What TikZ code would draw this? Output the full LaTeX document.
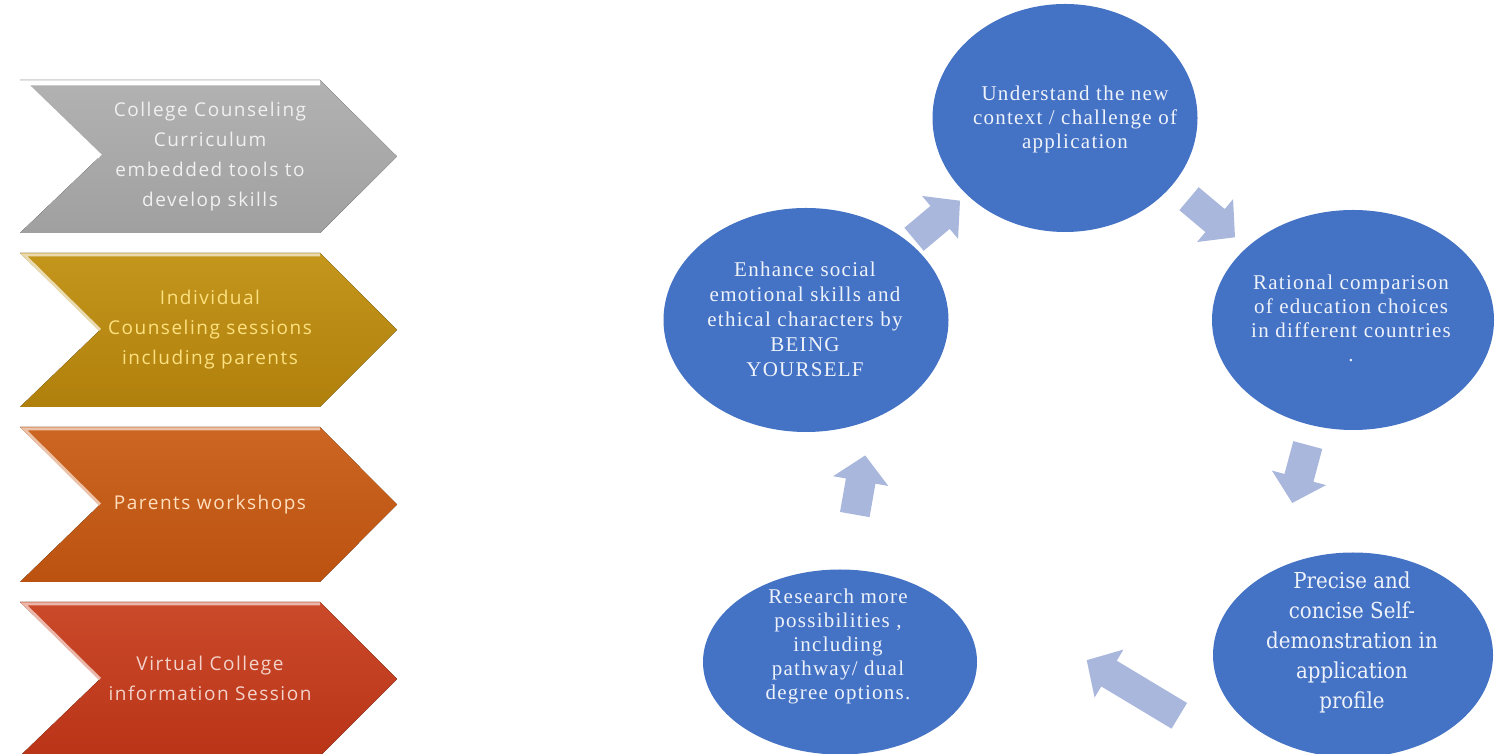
\documentclass[tikz,border=0pt]{standalone}
\usepackage{fontspec}
\setmainfont{Liberation Serif}
\newfontfamily\chevfont[LetterSpace=8]{Open Sans}
\newfontfamily\cycfont[LetterSpace=6]{Liberation Serif}
\newfontfamily\slabfont[FakeStretch=0.9]{DejaVu Serif}
\usetikzlibrary{shapes.geometric}

\definecolor{cycblue}{HTML}{4472C4}
\definecolor{cycarrow}{HTML}{A9B7DD}
\definecolor{cyctxt}{HTML}{EEF2FA}
\definecolor{graytop}{HTML}{B2B2B2}
\definecolor{graybot}{HTML}{A0A0A0}
\definecolor{goldtop}{HTML}{C4961C}
\definecolor{goldbot}{HTML}{B0800C}
\definecolor{orangetop}{HTML}{CC6622}
\definecolor{orangebot}{HTML}{BC5210}
\definecolor{redtop}{HTML}{CA4A2A}
\definecolor{redbot}{HTML}{BA3418}

\tikzset{
  chevtext/.style={align=center, font=\chevfont\fontsize{19}{30}\selectfont},
  cycnode/.style={ellipse, fill=cycblue, inner sep=0pt},
  cyctext/.style={align=center, text=cyctxt, font=\cycfont\fontsize{21}{24}\selectfont},
  arrowfill/.style={fill=cycarrow}
}

% block arrow: x, y, angle, half length
\newcommand{\cycarrow}[4]{%
  \fill[arrowfill, shift={(#1,#2)}, rotate=#3]
    ({-#4},-15) -- ({#4-26},-15) -- ({#4-26},-28) -- (#4,0)
    -- ({#4-26},28) -- ({#4-26},15) -- ({-#4},15) -- cycle;}

\begin{document}
\begin{tikzpicture}[x=1pt,y=1pt]
\useasboundingbox (0,0) rectangle (1495,754);

% chevrons
\fill[top color=graytop, bottom color=graybot] (20,674) -- (320,674) -- (397,597.5) -- (320,521) -- (20,521) -- (100,597.5) -- cycle;
\draw[white, line width=5pt] (100,597.5) -- (24,671) -- (320,671);
\node[chevtext, text=white!94!black] (gray) at (210,597) {College Counseling\\Curriculum\\embedded tools to\\develop skills};

\fill[top color=goldtop, bottom color=goldbot] (20,501) -- (320,501) -- (397,424) -- (320,347) -- (20,347) -- (100,424) -- cycle;
\draw[white!65!goldtop, line width=3pt] (100,424) -- (24,499) -- (320,499);
\node[chevtext, text=white!65!yellow!80!orange] (gold) at (210,424) {Individual\\Counseling sessions\\including parents};

\fill[top color=orangetop, bottom color=orangebot] (20,327) -- (320,327) -- (397,249.5) -- (320,172) -- (20,172) -- (100,249.5) -- cycle;
\draw[white!60!orangetop, line width=3pt] (100,249.5) -- (24,325) -- (320,325);
\node[chevtext, text=white!75!orange] (orange) at (210,249.5) {Parents workshops};

\fill[top color=redtop, bottom color=redbot] (20,152) -- (320,152) -- (397,75) -- (320,-2) -- (20,-2) -- (100,75) -- cycle;
\draw[white!60!redtop, line width=3pt] (100,75) -- (24,150) -- (320,150);
\node[chevtext, text=white!75!redtop] (red) at (210,76) {Virtual College\\information Session};

% cycle
\node[cycnode, minimum width=265pt, minimum height=228pt] (understand) at (1065,636) {};
\node[cycnode, minimum width=282pt, minimum height=220pt] (rational) at (1353,434) {};
\node[cycnode, minimum width=280pt, minimum height=205pt] (precise) at (1353,99) {};
\node[cycnode, minimum width=274pt, minimum height=185pt] (research) at (840,92) {};
\node[cycnode, minimum width=285pt, minimum height=224pt] (enhance) at (806,434) {};

\node[cyctext] (understandtxt) at (1075,635) {Understand the new\\context / challenge of\\application};
\node[cyctext] (rationaltxt) at (1351,436) {Rational comparison\\of education choices\\in different countries\\.};
\node[align=center, text=cyctxt, font=\slabfont\fontsize{22}{30}\selectfont] (precisetxt) at (1352,112) {Precise and\\concise Self-\\demonstration in\\application\\profile};
\node[cyctext] (researchtxt) at (838,108) {Research more\\possibilities ,\\including\\pathway/ dual\\degree options.};
\node[cyctext, font=\cycfont\fontsize{21}{25}\selectfont] (enhancetxt) at (805,435) {Enhance social\\emotional skills and\\ethical characters by\\BEING\\YOURSELF};

\cycarrow{937}{534}{40}{30}
\cycarrow{1212}{536}{-40}{30}
\cycarrow{1300}{280}{-105}{30}
\cycarrow{1133}{66}{149}{54}
\cycarrow{860}{269}{80}{30}
\end{tikzpicture}
\end{document}
